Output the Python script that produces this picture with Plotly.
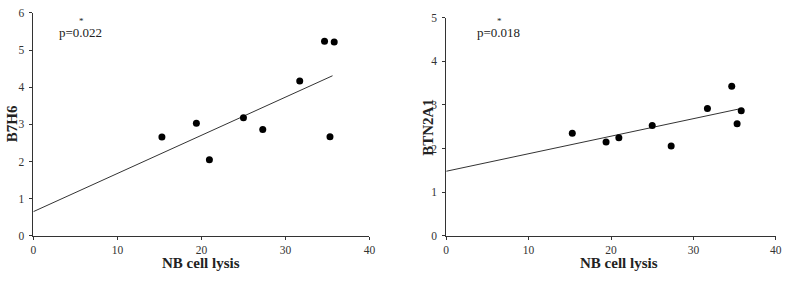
import plotly.graph_objects as go

# Data
nb_lysis = [15.3, 19.4, 20.95, 25.0, 27.3, 31.7, 34.65, 35.3, 35.8]
b7h6 = [2.66, 3.03, 2.05, 3.18, 2.86, 4.17, 5.24, 2.67, 5.22]
btn2a1 = [2.35, 2.15, 2.25, 2.53, 2.06, 2.92, 3.43, 2.57, 2.87]

# regression lines (intercept, slope)
fit_b7h6 = (0.65, 0.1028)
fit_btn2a1 = (1.48, 0.0402)
fit_x = [0, 35.6]

p_b7h6 = "p=0.022"
p_btn2a1 = "p=0.018"

W, H = 793, 282
FONT = "Liberation Serif, Times New Roman, serif"

fig = go.Figure()

def add_panel(xa, ya, yvals, fit):
    fig.add_trace(go.Scatter(
        x=fit_x, y=[fit[0] + fit[1] * v for v in fit_x], mode="lines",
        line=dict(color="#333333", width=1), xaxis=xa, yaxis=ya,
        showlegend=False, hoverinfo="skip"))
    fig.add_trace(go.Scatter(
        x=nb_lysis, y=yvals, mode="markers",
        marker=dict(color="black", size=7), xaxis=xa, yaxis=ya,
        showlegend=False))

add_panel("x", "y", b7h6, fit_b7h6)
add_panel("x2", "y2", btn2a1, fit_btn2a1)

def px(v):
    return v / W

def py(v):
    return (H - v) / H

axis_common = dict(
    showgrid=False, zeroline=False, showline=True, linecolor="#333333",
    linewidth=1, ticks="outside", ticklen=3, tickcolor="#333333",
    tickfont=dict(family=FONT, size=11.5, color="#333333"), fixedrange=True)

fig.update_layout(
    width=W, height=H, margin=dict(l=0, r=0, t=0, b=0),
    paper_bgcolor="white", plot_bgcolor="white",
    xaxis=dict(domain=[px(30.7), px(370.7)], range=[0, 40], dtick=10,
               anchor="y", **axis_common),
    yaxis=dict(domain=[py(240), py(7.3)], range=[0, 6], dtick=1,
               anchor="x", ticksuffix="\u00a0", **axis_common),
    xaxis2=dict(domain=[px(448.3), px(781.7)], range=[0, 40], dtick=10,
                anchor="y2", **axis_common),
    yaxis2=dict(domain=[py(240), py(12.3)], range=[0, 5], dtick=1,
                anchor="x2", ticksuffix="\u00a0", **axis_common),
)

title_font = dict(family=FONT, size=15, color="#222222")
ann = [
    dict(text="<b>NB cell lysis</b>", x=px(200), y=py(268)),
    dict(text="<b>NB cell lysis</b>", x=px(623), y=py(268)),
    dict(text="<b>B7H6</b>", x=px(8.5), y=py(123), textangle=-90),
    dict(text="<b>BTN2A1</b>", x=px(429), y=py(127), textangle=-90),
]
for a in ann:
    fig.add_annotation(xref="paper", yref="paper", showarrow=False,
                       xanchor="center", yanchor="middle",
                       font=title_font, **a)

for txt, cx, star_x in [(p_b7h6, 78.5, 79), (p_btn2a1, 501, 502)]:
    fig.add_annotation(xref="paper", yref="paper", showarrow=False,
                       x=px(cx), y=py(28), xanchor="center", yanchor="middle",
                       text=txt, font=dict(family=FONT, size=13, color="#222222"))
    fig.add_annotation(xref="paper", yref="paper", showarrow=False,
                       x=px(star_x), y=py(16), xanchor="center", yanchor="middle",
                       text="*", font=dict(family=FONT, size=9, color="#222222"))

fig.write_html("out.html")
